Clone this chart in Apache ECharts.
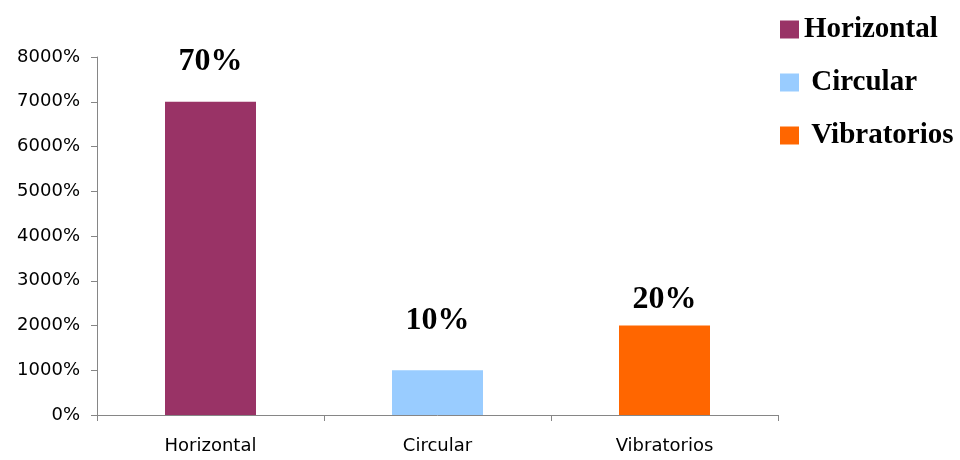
<!DOCTYPE html>
<html>
<head>
<meta charset="utf-8">
<script src="https://cdn.jsdelivr.net/npm/echarts@6/dist/echarts.min.js"></script>
<style>html,body{margin:0;padding:0;background:#fff}#c{width:960px;height:460px}</style>
</head>
<body>
<div id="c"></div>
<script>
const categories = ['Horizontal', 'Circular', 'Vibratorios'];
const values = [7000, 1000, 2000];
const barLabels = ['70%', '10%', '20%'];
const yTicks = [0, 1000, 2000, 3000, 4000, 5000, 6000, 7000, 8000];

const colors = ['#993366', '#99CCFF', '#FF6600'];
const labelDistances = [24, 34, 10];

const chart = echarts.init(document.getElementById('c'));
const series = categories.map((name, i) => ({
  name: name,
  type: 'bar',
  barWidth: 91,
  barGap: '-100%',
  itemStyle: { color: colors[i] },
  label: {
    show: true,
    position: 'top',
    distance: labelDistances[i],
    formatter: () => barLabels[i],
    fontFamily: 'Liberation Serif',
    fontWeight: 'bold',
    fontSize: 32,
    color: '#000'
  },
  data: categories.map((c, j) => (j === i ? values[i] : null))
}));

chart.setOption({
  animation: false,
  grid: { left: 97, right: 182, top: 57, bottom: 45 },
  legend: {
    orient: 'vertical',
    left: 780,
    top: 15,
    padding: 0,
    itemWidth: 19,
    itemHeight: 18,
    itemGap: 24,
    icon: 'rect',
    formatter: n => (n === categories[0] ? n : ' ' + n),
    textStyle: { fontFamily: 'Liberation Serif', fontWeight: 'bold', fontSize: 29, color: '#000' },
    data: categories
  },
  xAxis: {
    type: 'category',
    data: categories,
    axisLine: { lineStyle: { color: '#868686' } },
    axisTick: { show: true, length: 6, lineStyle: { color: '#868686' } },
    axisLabel: { fontFamily: 'DejaVu Sans', fontSize: 18, color: '#000', margin: 22 }
  },
  yAxis: {
    type: 'value',
    min: yTicks[0],
    max: yTicks[yTicks.length - 1],
    interval: yTicks[1] - yTicks[0],
    axisLine: { show: true, lineStyle: { color: '#868686' } },
    axisTick: { show: true, length: 6, lineStyle: { color: '#868686' } },
    splitLine: { show: false },
    axisLabel: { formatter: v => v + '%', fontFamily: 'DejaVu Sans', fontSize: 18, color: '#000', margin: 17 }
  },
  series: series
});
</script>
</body>
</html>
